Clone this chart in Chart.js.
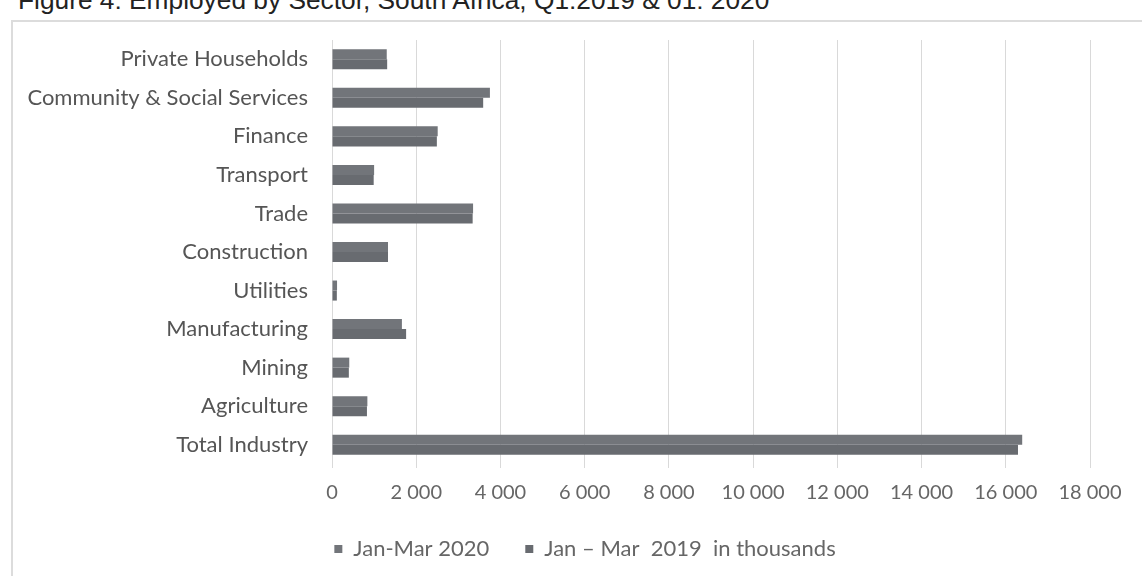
<!DOCTYPE html>
<html>
<head>
<meta charset="utf-8">
<script src="https://cdn.jsdelivr.net/npm/chart.js@4"></script>
<style>
  html, body { margin: 0; padding: 0; background: #fff; overflow: hidden; }
  #wrap { position: relative; width: 1142px; height: 576px; }
  #title {
    position: absolute; left: 18px; top: -13px; line-height: 26px;
    font-family: "Liberation Sans", Arial, sans-serif; font-size: 26.3px;
    color: #222; white-space: nowrap;
  }
  #frame {
    position: absolute; left: 11px; top: 20px; width: 1140px; height: 560px;
    border: 2px solid #dcdcdc; box-sizing: border-box;
  }
  canvas { position: absolute; left: 0; top: 0; }
</style>
</head>
<body>
<div id="wrap">
  <div id="title">Figure 4: Employed by Sector, South Africa, Q1:2019 &amp; 01: 2020</div>
  <div id="frame"></div>
  <canvas id="myChart" width="1142" height="576"></canvas>
</div>
<script>
// sectors, listed top to bottom
var sectors = ["Private Households", "Community & Social Services", "Finance", "Transport",
    "Trade", "Construction", "Utilities", "Manufacturing", "Mining", "Agriculture", "Total Industry"];

// employed, thousands
var q1_2020 = [1300, 3750, 2510, 1000, 3350, 1330, 120, 1660, 410, 840, 16390];
var q1_2019 = [1310, 3590, 2490, 990, 3340, 1330, 115, 1760, 400, 830, 16290];

var seriesNames = ["Jan-Mar 2020", "Jan \u2013 Mar  2019  in thousands"];

var xMax = 18000;
var xStep = 2000;

var labelFont = { family: "Lato, 'Noto Sans', sans-serif", size: 22 };
var tickFont = { family: "Lato, 'Noto Sans', sans-serif", size: 20 };
var legendFont = { family: "Lato, 'Noto Sans', sans-serif", size: 22 };

// move the legend off the default spot: a bit right and up
var legendShift = {
    id: 'legendShift',
    afterLayout: function(chart) {
        var lg = chart.legend;
        if (lg) {
            lg.left += 34;
            lg.right += 34;
            lg.top -= 6;
            lg.bottom -= 6;
        }
    }
};

var ctx = document.getElementById('myChart').getContext('2d');
var chart = new Chart(ctx, {
    type: 'bar',
    data: {
        labels: sectors,
        datasets: [{
            label: seriesNames[0],
            backgroundColor: '#72757a',
            data: q1_2020
        }, {
            label: seriesNames[1],
            backgroundColor: '#686b70',
            data: q1_2019
        }]
    },
    plugins: [legendShift],
    options: {
        indexAxis: 'y',
        responsive: false,
        animation: false,
        datasets: {
            bar: { barPercentage: 1.0, categoryPercentage: 0.52, borderWidth: 0 }
        },
        layout: { padding: { top: 40, left: 12, right: 52, bottom: 0 } },
        plugins: {
            legend: {
                position: 'bottom',
                labels: {
                    color: '#666',
                    font: legendFont,
                    boxWidth: 8,
                    boxHeight: 8,
                    padding: 36
                }
            },
            tooltip: { enabled: false }
        },
        scales: {
            x: {
                min: 0,
                max: xMax,
                ticks: {
                    stepSize: xStep,
                    color: '#666',
                    font: tickFont,
                    padding: 13,
                    callback: function(v) {
                        return String(v).replace(/\B(?=(\d{3})+(?!\d))/g, ' ');
                    }
                },
                grid: { color: '#d9d9d9', tickLength: 4 },
                border: { display: false },
                afterFit: function(s) { s.height = 44; }
            },
            y: {
                ticks: { color: '#555', font: labelFont, padding: 24 },
                grid: { display: false, drawTicks: false },
                border: { display: false },
                afterFit: function(s) { s.width = 320; }
            }
        }
    }
});
</script>
</body>
</html>
